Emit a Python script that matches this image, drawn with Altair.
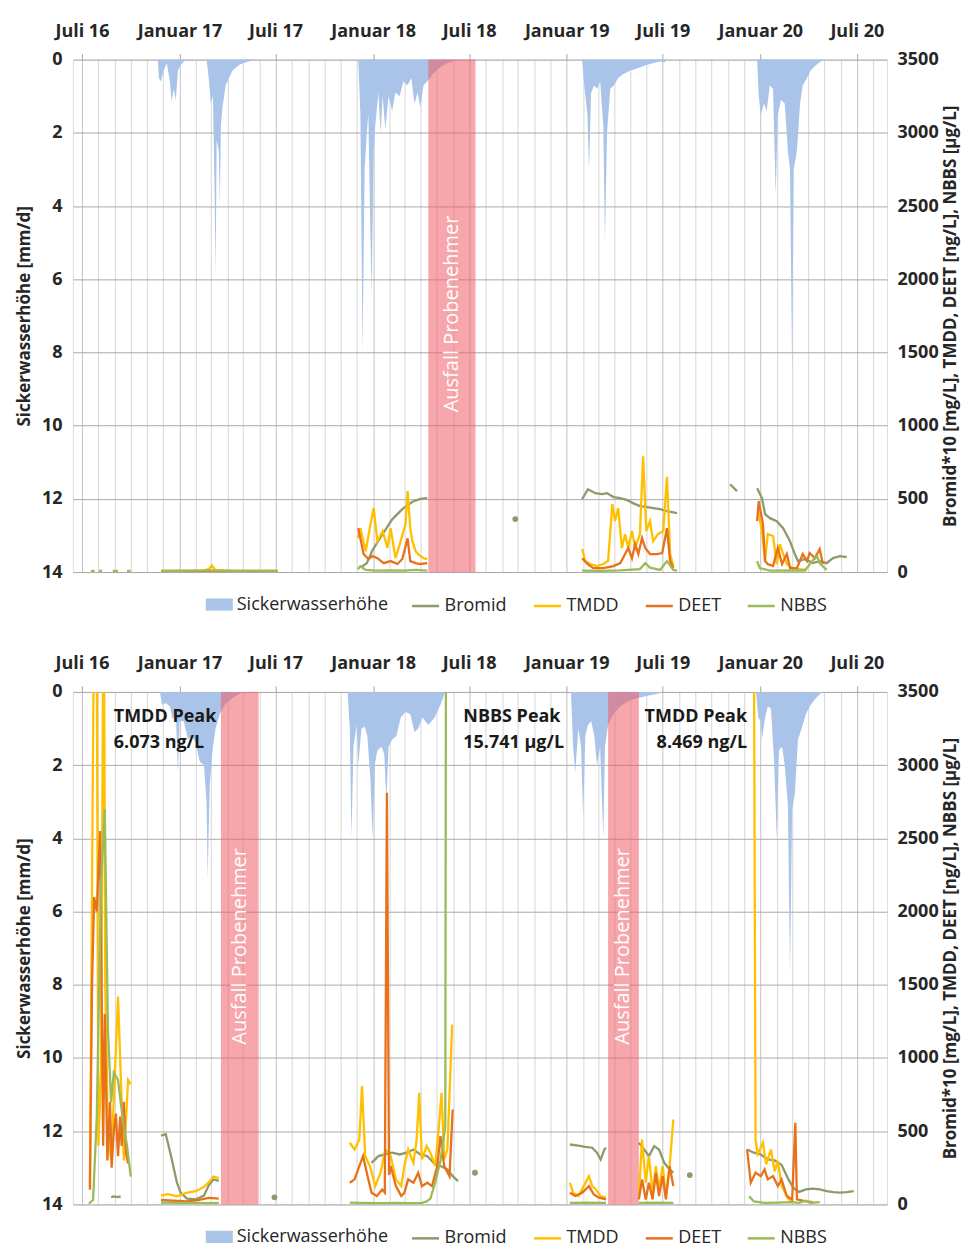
import altair as alt
import pandas as pd

FONT = "Open Sans"
TXT = "#262626"

# ---------------- categories / colours / ticks ----------------
SERIES = ["Sickerwasserhöhe", "Bromid", "TMDD", "DEET", "NBBS"]
COLORS = ["#a9c4e8", "#8d9a6c", "#ffc000", "#e8711c", "#9bbb59"]
BAND_COLOR = "#f15c66"

TICK_DATES = ["2016-07-01", "2017-01-01", "2017-07-01", "2018-01-01", "2018-07-01",
              "2019-01-01", "2019-07-01", "2020-01-01", "2020-07-01"]
TICK_LABELS = ["Juli 16", "Januar 17", "Juli 17", "Januar 18", "Juli 18",
               "Januar 19", "Juli 19", "Januar 20", "Juli 20"]
LEFT_TICKS = [0, 2, 4, 6, 8, 10, 12, 14]
RIGHT_TICKS = [0, 500, 1000, 1500, 2000, 2500, 3000, 3500]
X_DOMAIN = ["2016-06-14", "2020-08-27"]
LEFT_TITLE = "Sickerwasserhöhe [mm/d]"
RIGHT_TITLE = "Bromid*10 [mg/L], TMDD, DEET [ng/L], NBBS [µg/L]"

# ---------------- TOP PANEL ----------------
top_sw_dates = [
    "2016-11-21", "2016-11-23", "2016-11-27", "2016-12-02", "2016-12-08", "2016-12-14", "2016-12-17",
    "2016-12-21", "2016-12-25", "2016-12-29", "2017-01-03", "2017-01-09", "2017-01-13",
    "2017-02-21", "2017-02-25", "2017-03-01", "2017-03-05", "2017-03-08", "2017-03-10", "2017-03-12",
    "2017-03-16", "2017-03-18", "2017-03-20", "2017-03-23", "2017-03-29", "2017-04-04", "2017-04-11",
    "2017-04-23", "2017-05-06", "2017-05-21", "2017-05-26",
    "2017-12-04", "2017-12-08", "2017-12-12", "2017-12-16", "2017-12-20", "2017-12-23", "2017-12-29",
    "2018-01-02", "2018-01-05", "2018-01-11", "2018-01-15", "2018-01-19", "2018-01-24", "2018-01-30",
    "2018-02-06", "2018-02-12", "2018-02-20", "2018-02-27", "2018-03-07", "2018-03-14", "2018-03-20",
    "2018-03-26", "2018-03-31", "2018-04-06", "2018-04-13", "2018-04-23", "2018-05-04", "2018-05-17",
    "2018-05-30", "2018-06-15",
    "2019-01-30", "2019-02-03", "2019-02-09", "2019-02-12", "2019-02-16", "2019-02-22", "2019-02-27",
    "2019-03-05", "2019-03-11", "2019-03-14", "2019-03-18", "2019-03-24", "2019-03-31", "2019-04-08",
    "2019-04-17", "2019-05-01", "2019-05-14", "2019-05-27", "2019-06-07", "2019-06-17", "2019-06-26",
    "2019-07-04", "2019-07-09",
    "2019-12-26", "2019-12-29", "2020-01-02", "2020-01-08", "2020-01-13", "2020-01-19", "2020-01-25",
    "2020-01-30", "2020-02-03", "2020-02-09", "2020-02-16", "2020-02-22", "2020-02-26", "2020-03-01",
    "2020-03-04", "2020-03-10", "2020-03-16", "2020-03-21", "2020-03-29", "2020-04-05", "2020-04-15",
    "2020-04-24", "2020-04-30"]
top_sw_vals = [
    0, 0.5, 0.6, 0.3, 0.1, 0.6, 1.15, 0.8, 1.1, 0.3, 0.15, 0.05, 0,
    0, 0.5, 1.2, 1.0, 3.5, 5.9, 2.2, 2.5, 4.0, 1.8, 1.3, 0.7, 0.5, 0.3, 0.15, 0.07, 0.02, 0,
    0, 1.5, 8.0, 3.0, 2.0, 1.5, 6.5, 2.5, 1.8, 0.9, 2.0, 1.0, 1.9, 1.0, 1.4, 0.9, 1.0, 0.6, 0.7,
    0.5, 1.2, 0.9, 1.3, 0.7, 0.6, 0.4, 0.25, 0.12, 0.05, 0,
    0, 0.7, 1.5, 3.0, 0.9, 0.7, 0.8, 0.6, 1.8, 5.0, 2.0, 0.8, 0.7, 0.5, 0.4, 0.3, 0.24, 0.17, 0.12,
    0.08, 0.05, 0.08, 0,
    0, 1.0, 1.5, 1.2, 1.4, 0.7, 0.8, 3.7, 1.5, 1.1, 1.2, 2.5, 3.0, 8.5, 3.0, 2.5, 1.2, 0.7, 0.5,
    0.3, 0.15, 0.05, 0]

top_bromid_dates = [
    "2016-11-27", "2016-12-15", "2017-01-05", "2017-01-25", "2017-02-15", "2017-03-07", "2017-03-28",
    "2017-04-18", "2017-05-08", "2017-05-29", "2017-06-18", "2017-07-05", None,
    "2017-12-08", "2017-12-20", "2017-12-31", "2018-01-19", "2018-02-06", "2018-02-25", "2018-03-16",
    "2018-03-31", "2018-04-13", None,
    "2018-09-26", None,
    "2019-01-30", "2019-02-10", "2019-02-24", "2019-03-09", "2019-03-18", "2019-03-30", "2019-04-12",
    "2019-04-25", "2019-05-06", "2019-05-19", "2019-06-02", "2019-06-13", "2019-06-26", "2019-07-09",
    "2019-07-28", None,
    "2019-11-05", "2019-11-18", None,
    "2019-12-26", "2020-01-04", "2020-01-10", "2020-01-19", "2020-02-01", "2020-02-13", "2020-02-26",
    "2020-03-06", "2020-03-12", "2020-03-25", "2020-04-09", "2020-04-22", "2020-05-05", "2020-05-17",
    "2020-05-30", "2020-06-12"]
top_bromid_vals = [
    6, 5, 6, 5, 7, 6, 5, 6, 5, 6, 5, 5, None,
    30, 60, 150, 260, 360, 430, 480, 500, 505, None,
    362, None,
    498, 566, 539, 532, 539, 512, 505, 491, 471, 450, 443, 437, 430, 416, 403, None,
    600, 553, None,
    573, 505, 396, 368, 348, 300, 211, 123, 75, 89, 61, 75, 61, 95, 109, 102]

top_tmdd_dates = [
    "2016-11-27", "2017-01-05", "2017-02-15", "2017-02-25", "2017-03-03", "2017-03-09", "2017-04-10",
    "2017-05-20", "2017-07-05", None,
    "2017-12-03", "2017-12-08", "2017-12-18", "2017-12-27", "2018-01-02", "2018-01-09", "2018-01-19",
    "2018-01-28", "2018-02-03", "2018-02-12", "2018-02-22", "2018-03-03", "2018-03-07", "2018-03-12",
    "2018-03-16", "2018-03-22", "2018-03-27", "2018-04-06", "2018-04-13", None,
    "2019-01-30", "2019-02-05", "2019-02-14", "2019-02-27", "2019-03-11", "2019-03-20", "2019-03-28",
    "2019-04-02", "2019-04-08", "2019-04-15", "2019-04-21", "2019-04-27", "2019-05-04", "2019-05-10",
    "2019-05-19", "2019-05-25", "2019-05-31", "2019-06-07", "2019-06-13", "2019-06-22", "2019-07-02",
    "2019-07-09", "2019-07-15", "2019-07-21", None,
    "2019-12-28", "2020-01-04", "2020-01-10", "2020-01-15", "2020-01-25", "2020-02-01", "2020-02-07",
    "2020-02-13", "2020-02-20", "2020-03-02", "2020-03-16", "2020-03-29"]
top_tmdd_vals = [
    5, 8, 10, 20, 45, 15, 8, 5, 5, None,
    232, 300, 143, 327, 437, 211, 280, 164, 300, 95, 211, 327, 553, 300, 211, 143, 123, 95, 89, None,
    157, 75, 55, 41, 55, 75, 464, 348, 437, 164, 259, 164, 280, 164, 259, 790, 280, 348, 211, 259,
    280, 650, 123, 41, None,
    416, 280, 75, 259, 246, 55, 191, 123, 55, 27, 20, 15]

top_deet_dates = [
    "2016-11-27", "2017-02-01", "2017-04-01", "2017-07-05", None,
    "2017-12-04", "2017-12-14", "2017-12-23", "2017-12-31", "2018-01-09", "2018-01-21", "2018-02-03",
    "2018-02-16", "2018-02-25", "2018-03-07", "2018-03-12", "2018-03-22", "2018-03-31", "2018-04-13", None,
    "2019-01-30", "2019-02-09", "2019-02-20", "2019-03-11", "2019-03-30", "2019-04-12", "2019-04-21",
    "2019-04-27", "2019-05-04", "2019-05-10", "2019-05-16", "2019-05-23", "2019-05-29", "2019-06-07",
    "2019-06-20", "2019-06-30", "2019-07-09", "2019-07-15", "2019-07-21", None,
    "2019-12-26", "2019-12-29", "2020-01-06", "2020-01-10", "2020-01-15", "2020-01-25", "2020-02-03",
    "2020-02-11", "2020-02-20", "2020-02-26", "2020-03-10", "2020-03-21", "2020-03-29", "2020-04-03",
    "2020-04-13", "2020-04-22", "2020-04-28"]
top_deet_vals = [
    4, 6, 5, 4, None,
    300, 123, 89, 109, 95, 61, 75, 55, 89, 230, 75, 61, 55, 61, None,
    95, 55, 27, 27, 41, 61, 123, 164, 95, 191, 123, 232, 164, 123, 123, 130, 300, 75, 27, None,
    348, 484, 327, 75, 55, 41, 164, 55, 123, 27, 27, 123, 75, 130, 95, 157, 55]

top_nbbs_dates = [
    "2016-07-18", "2016-07-25", None, "2016-08-02", "2016-08-08", None, "2016-08-28", "2016-09-07", None,
    "2016-09-24", "2016-10-01", None,
    "2016-11-27", "2016-12-20", "2017-01-20", "2017-02-20", "2017-03-20", "2017-04-20", "2017-05-20",
    "2017-06-20", "2017-07-05", None,
    "2017-12-03", "2017-12-08", "2017-12-18", "2018-01-05", "2018-02-03", "2018-03-03", "2018-03-22",
    "2018-04-13", None,
    "2019-01-30", "2019-03-05", "2019-04-12", "2019-05-19", "2019-05-29", "2019-06-07", "2019-06-26",
    "2019-07-09", "2019-07-21", "2019-07-28", None,
    "2019-12-26", "2019-12-31", "2020-01-19", "2020-02-26", "2020-03-25", "2020-04-09", "2020-04-17",
    "2020-04-22", "2020-05-05"]
top_nbbs_vals = [
    8, 8, None, 8, 8, None, 8, 8, None, 8, 8, None,
    10, 9, 10, 11, 10, 9, 10, 9, 10, None,
    20, 40, 15, 10, 12, 10, 15, 10, None,
    10, 8, 12, 20, 61, 30, 15, 75, 15, 10, None,
    75, 27, 10, 12, 10, 80, 109, 60, 15]

top_band_start = ["2018-04-15"]
top_band_end = ["2018-07-13"]

# ---------------- BOTTOM PANEL ----------------
bot_sw_dates = [
    "2016-11-25", "2016-11-29", "2016-12-06", "2016-12-14", "2016-12-19", "2016-12-25", "2016-12-29",
    "2017-01-01", "2017-01-09", "2017-01-17", "2017-01-24", "2017-02-01", "2017-02-08", "2017-02-16",
    "2017-02-21", "2017-02-23", "2017-02-27", "2017-03-05", "2017-03-10", "2017-03-18", "2017-03-27",
    "2017-04-08", "2017-04-21", "2017-05-02",
    "2017-11-14", "2017-11-18", "2017-11-21", "2017-11-25", "2017-12-01", "2017-12-04", "2017-12-10",
    "2017-12-16", "2017-12-21", "2017-12-27", "2017-12-31", "2018-01-04", "2018-01-09", "2018-01-17",
    "2018-01-22", "2018-01-26", "2018-01-30", "2018-02-06", "2018-02-14", "2018-02-22", "2018-03-03",
    "2018-03-12", "2018-03-20", "2018-03-27", "2018-04-04", "2018-04-15", "2018-04-27", "2018-05-08",
    "2018-05-17",
    "2019-01-09", "2019-01-13", "2019-01-17", "2019-01-23", "2019-01-28", "2019-02-01", "2019-02-05",
    "2019-02-10", "2019-02-16", "2019-02-22", "2019-02-27", "2019-03-05", "2019-03-11", "2019-03-14",
    "2019-03-20", "2019-03-30", "2019-04-12", "2019-04-27", "2019-05-12", "2019-05-29", "2019-06-11",
    "2019-06-22", "2019-06-30",
    "2019-12-24", "2019-12-28", "2020-01-02", "2020-01-04", "2020-01-10", "2020-01-15", "2020-01-21",
    "2020-01-27", "2020-02-01", "2020-02-05", "2020-02-11", "2020-02-16", "2020-02-22", "2020-02-26",
    "2020-03-01", "2020-03-06", "2020-03-12", "2020-03-19", "2020-03-27", "2020-04-03", "2020-04-13",
    "2020-04-22", "2020-04-28"]
bot_sw_vals = [
    0, 0.35, 0.3, 0.4, 0.75, 0.6, 2.2, 0.8, 0.8, 1.3, 1.2, 1.4, 1.9, 2.0, 3.0, 5.1, 2.5, 1.5, 1.0,
    0.6, 0.35, 0.2, 0.08, 0,
    0, 1.0, 4.0, 1.5, 0.9, 2.0, 1.0, 0.95, 1.2, 2.4, 4.0, 2.0, 1.6, 1.5, 1.7, 3.0, 1.5, 1.3, 1.2,
    0.7, 0.55, 0.6, 1.1, 1.0, 0.7, 0.9, 0.7, 0.35, 0,
    0, 1.5, 2.2, 1.0, 1.5, 3.4, 1.2, 0.9, 0.8, 1.2, 2.0, 1.5, 4.0, 1.5, 0.9, 0.6, 0.4, 0.25, 0.18,
    0.12, 0.08, 0.05, 0,
    0, 0.7, 0.8, 1.3, 0.7, 0.4, 0.45, 1.9, 4.0, 1.6, 1.5, 2.0, 3.1, 7.7, 3.2, 2.8, 1.3, 1.0, 0.6,
    0.4, 0.2, 0.06, 0]

bot_bromid_dates = [
    "2016-08-25", "2016-08-30", "2016-09-07", "2016-09-12", None,
    "2016-11-27", "2016-12-06", "2016-12-16", "2016-12-27", "2017-01-03", "2017-01-15", "2017-02-01",
    "2017-02-16", "2017-02-25", "2017-03-06", "2017-03-16", None,
    "2017-06-29", None,
    "2017-12-29", "2018-01-11", "2018-01-24", "2018-02-06", "2018-02-20", "2018-03-05", "2018-03-18",
    "2018-03-31", "2018-04-13", "2018-04-25", "2018-05-08", "2018-05-21", "2018-05-31", "2018-06-10", None,
    "2018-07-12", None,
    "2019-01-07", "2019-01-23", "2019-02-05", "2019-02-18", "2019-02-27", "2019-03-06", "2019-03-13",
    "2019-03-16", None,
    "2019-05-17", "2019-05-27", "2019-06-05", "2019-06-15", "2019-06-24", "2019-07-04", "2019-07-14",
    "2019-07-21", None,
    "2019-08-21", None,
    "2019-12-07", "2019-12-20", "2020-01-02", "2020-01-15", "2020-01-28", "2020-02-10", "2020-02-23",
    "2020-03-04", "2020-03-14", "2020-03-27", "2020-04-09", "2020-04-22", "2020-05-05", "2020-05-18",
    "2020-05-30", "2020-06-12", "2020-06-25"]
bot_bromid_vals = [
    50, 55, 50, 55, None,
    470, 480, 330, 150, 80, 40, 35, 60, 130, 170, 160, None,
    48, None,
    284, 330, 341, 353, 341, 353, 375, 341, 330, 284, 262, 239, 193, 159, None,
    216, None,
    409, 402, 393, 387, 353, 307, 375, 387, None,
    421, 375, 330, 398, 375, 284, 239, 216, None,
    200, None,
    375, 353, 341, 307, 300, 270, 171, 110, 85, 102, 107, 102, 91, 84, 80, 84, 91]

bot_tmdd_dates = [
    "2016-07-16", "2016-07-24", "2016-07-27", "2016-08-01", "2016-08-06", "2016-08-11", "2016-08-14",
    "2016-08-19", "2016-08-25", "2016-08-30", "2016-09-07", "2016-09-12", "2016-09-18", "2016-09-26",
    "2016-10-01", None,
    "2016-11-27", "2016-12-10", "2016-12-27", "2017-01-15", "2017-02-01", "2017-02-16", "2017-02-25",
    "2017-03-06", "2017-03-16", None,
    "2017-11-18", "2017-11-27", "2017-12-06", "2017-12-11", "2017-12-17", "2017-12-26", "2018-01-05",
    "2018-01-15", "2018-01-24", "2018-02-03", "2018-02-13", "2018-02-23", "2018-03-01", "2018-03-08",
    "2018-03-18", "2018-03-24", "2018-03-29", "2018-04-03", "2018-04-12", "2018-04-19", "2018-04-28",
    "2018-05-05", "2018-05-10", "2018-05-15", "2018-05-21", "2018-05-30", None,
    "2019-01-07", "2019-01-13", "2019-01-23", "2019-02-02", "2019-02-12", "2019-02-18", "2019-02-25",
    "2019-03-06", "2019-03-16", None,
    "2019-05-17", "2019-05-23", "2019-05-30", "2019-06-05", "2019-06-12", "2019-06-18", "2019-06-24",
    "2019-07-01", "2019-07-07", "2019-07-14", "2019-07-21", None,
    "2019-12-16", "2019-12-23", "2019-12-27", "2020-01-06", "2020-01-12", "2020-01-21", "2020-01-28",
    "2020-02-03", "2020-02-10", "2020-02-16", "2020-02-23", "2020-03-04"]
bot_tmdd_vals = [
    120, 4200, 6073, 400, 900, 4500, 1500, 500, 300, 700, 1420, 900, 300, 850, 820, None,
    60, 70, 55, 80, 90, 120, 150, 190, 180, None,
    421, 375, 443, 808, 330, 262, 125, 216, 375, 330, 171, 125, 262, 375, 284, 443, 762, 307, 398,
    353, 262, 535, 762, 307, 375, 1228, None,
    148, 80, 57, 125, 193, 125, 102, 57, 46, None,
    57, 443, 148, 330, 80, 262, 102, 262, 57, 262, 580, None,
    8469, 440, 344, 421, 273, 375, 226, 297, 131, 83, 36, 12]

bot_deet_dates = [
    "2016-07-16", "2016-07-20", "2016-07-24", "2016-07-29", "2016-08-04", "2016-08-10", "2016-08-13",
    "2016-08-18", "2016-08-23", "2016-08-26", "2016-08-30", "2016-09-03", "2016-09-07", "2016-09-11",
    "2016-09-14", "2016-09-18", "2016-09-22", "2016-09-26", None,
    "2016-11-27", "2016-12-20", "2017-01-15", "2017-02-05", "2017-02-25", "2017-03-16", None,
    "2017-11-18", "2017-11-27", "2017-12-06", "2017-12-13", "2017-12-20", "2017-12-29", "2018-01-08",
    "2018-01-18", "2018-01-23", "2018-01-27", "2018-01-31", "2018-02-03", "2018-02-13", "2018-02-23",
    "2018-03-01", "2018-03-08", "2018-03-18", "2018-03-27", "2018-04-03", "2018-04-13", "2018-04-22",
    "2018-05-02", "2018-05-08", "2018-05-15", "2018-05-25", "2018-05-31", None,
    "2019-01-07", "2019-01-17", "2019-01-30", "2019-02-12", "2019-02-21", "2019-03-03", "2019-03-16", None,
    "2019-05-17", "2019-05-23", "2019-05-30", "2019-06-05", "2019-06-12", "2019-06-18", "2019-06-24",
    "2019-07-01", "2019-07-07", "2019-07-14", "2019-07-21", None,
    "2019-12-07", "2019-12-14", "2019-12-23", "2020-01-02", "2020-01-09", "2020-01-15", "2020-01-25",
    "2020-02-03", "2020-02-10", "2020-02-20", "2020-03-01", "2020-03-07", "2020-03-10", "2020-03-27",
    "2020-04-09"]
bot_deet_vals = [
    100, 1500, 2100, 2000, 2550, 400, 1300, 300, 700, 250, 500, 620, 330, 600, 400, 700, 350, 280, None,
    30, 25, 20, 30, 45, 40, None,
    148, 171, 262, 330, 216, 80, 57, 102, 80, 2811, 200, 262, 125, 57, 80, 171, 148, 216, 125, 148,
    125, 262, 466, 262, 193, 648, None,
    80, 57, 80, 125, 68, 46, 34, None,
    34, 171, 34, 148, 34, 216, 57, 193, 34, 262, 125, None,
    375, 148, 216, 193, 239, 171, 193, 125, 171, 57, 34, 557, 34, 20, 15]

bot_nbbs_dates = [
    "2016-07-14", "2016-07-22", "2016-07-29", "2016-08-06", "2016-08-13", "2016-08-19", "2016-08-25",
    "2016-08-30", "2016-09-07", "2016-09-12", "2016-09-18", "2016-09-24", "2016-10-01", None,
    "2016-11-27", "2017-01-01", "2017-02-01", "2017-03-01", "2017-03-16", None,
    "2017-11-18", "2017-12-10", "2018-01-10", "2018-02-10", "2018-03-10", "2018-04-03", "2018-04-12",
    "2018-04-19", "2018-04-28", "2018-05-08", "2018-05-17", "2018-05-23", None,
    "2019-01-07", "2019-02-05", "2019-03-16", None,
    "2019-05-17", "2019-06-15", "2019-07-21", None,
    "2019-12-11", "2019-12-20", "2020-01-09", "2020-02-03", "2020-03-01", "2020-03-14", "2020-03-27",
    "2020-04-05", "2020-04-22"]
bot_nbbs_vals = [
    5, 30, 600, 2200, 2700, 1200, 700, 900, 850, 700, 530, 400, 190, None,
    12, 10, 10, 8, 10, None,
    12, 10, 8, 10, 8, 10, 20, 40, 150, 300, 532, 15741, None,
    10, 12, 10, None,
    10, 12, 10, None,
    55, 20, 10, 12, 15, 10, 25, 10, 15]

bot_band_start = ["2017-03-20", "2019-03-20"]
bot_band_end = ["2017-05-30", "2019-05-17"]

BAND_LABEL = "Ausfall Probenehmer"
BAND_LABEL_LEVEL = 6.95

ann_texts = ["TMDD Peak\n6.073 ng/L", "NBBS Peak\n15.741 µg/L", "TMDD Peak\n8.469 ng/L"]
ann_dates = ["2016-08-30", "2018-06-20", "2019-12-07"]
ann_align = ["left", "left", "right"]
ANN_LEVEL = 0.45

# ---------------- helpers ----------------
def dt(s):
    y, m, d = (int(p) for p in s.split("-"))
    return alt.DateTime(year=y, month=m, date=d)


MAJOR_TEST = "month(datum.value) == 0 || month(datum.value) == 6"
LABEL_EXPR = " : ".join(
    f"timeFormat(datum.value, '%Y-%m') == '{d[:7]}' ? '{lab}'" for d, lab in zip(TICK_DATES, TICK_LABELS)
) + " : ''"
GRID_VALUES = [alt.DateTime(year=t.year, month=t.month, date=1)
               for t in pd.date_range("2016-07-01", "2020-08-01", freq="MS")]

x_axis = alt.Axis(
    orient="top", values=GRID_VALUES, labelExpr=LABEL_EXPR, labelOverlap=False, labelFlush=False,
    labelAngle=0, grid=True,
    gridColor={"condition": {"test": MAJOR_TEST, "value": "#c2c2c2"}, "value": "#d6d6d6"},
    gridWidth=1, domain=False, ticks=True, tickSize=6, tickColor="#a6a6a6",
    tickOpacity={"condition": {"test": MAJOR_TEST, "value": 1}, "value": 0},
    labelFont=FONT, labelFontSize=18, labelFontWeight="bold", labelColor=TXT, labelPadding=13,
)
x_scale = alt.Scale(domain=[dt(X_DOMAIN[0]), dt(X_DOMAIN[1])])


def X(field):
    return alt.X(f"{field}:T", scale=x_scale, axis=x_axis, title=None)


left_scale = alt.Scale(domain=[0, 14], reverse=True, nice=False)
right_scale = alt.Scale(domain=[0, 3500], nice=False)
left_axis = alt.Axis(
    orient="left", values=LEFT_TICKS, title=LEFT_TITLE, grid=True, gridColor="#a9a9a9", gridWidth=1,
    ticks=False, domain=False, labelFont=FONT, labelFontSize=18, labelFontWeight="bold", labelColor=TXT,
    labelPadding=11, titleFont=FONT, titleFontSize=17, titleFontWeight="bold", titleColor=TXT,
    titlePadding=8,
)
right_axis = alt.Axis(
    orient="right", values=RIGHT_TICKS, format="d", title=RIGHT_TITLE, grid=False, ticks=False,
    domain=False, labelFont=FONT, labelFontSize=18, labelFontWeight="bold", labelColor=TXT,
    labelPadding=10, titleFont=FONT, titleFontSize=17, titleFontWeight="bold", titleColor=TXT,
    titleAngle=270, titleBaseline="top", titlePadding=4,
)

LEG_Y = 532
fill_enc = alt.Fill(
    "series:N", scale=alt.Scale(domain=SERIES[:1], range=COLORS[:1]),
    legend=alt.Legend(orient="none", legendX=133, legendY=LEG_Y, direction="horizontal", title=None,
                      symbolType="M-1,-0.45H1V0.45H-1Z", symbolSize=729, symbolStrokeWidth=0,
                      labelFont=FONT, labelFontSize=18, labelColor=TXT, labelOffset=4,
                      labelLimit=400, padding=0))
stroke_enc = alt.Stroke(
    "series:N", scale=alt.Scale(domain=SERIES[1:], range=COLORS[1:]),
    legend=alt.Legend(orient="none", legendX=338, legendY=LEG_Y, direction="horizontal", title=None,
                      symbolType="stroke", symbolSize=729, symbolStrokeWidth=2.5,
                      labelFont=FONT, labelFontSize=18, labelColor=TXT, labelOffset=4,
                      columnPadding=21, labelLimit=400, padding=0))


def build_lines(spec):
    rows = []
    for s in SERIES[1:]:
        dates, vals = spec[s]
        seg = 0
        for d, v in zip(dates, vals):
            if d is None:
                seg += 1
                continue
            rows.append({"date": d, "value": v, "series": s, "seg": f"{s}-{seg}"})
    df = pd.DataFrame(rows)
    df["date"] = pd.to_datetime(df["date"])
    df["n"] = df.groupby("seg")["seg"].transform("size")
    return df


def panel(sw_dates, sw_vals, spec, band_start, band_end, with_ann):
    df_sw = pd.DataFrame({"date": pd.to_datetime(sw_dates), "value": sw_vals, "series": SERIES[0]})
    df_lines = build_lines(spec)
    s = pd.to_datetime(band_start)
    e = pd.to_datetime(band_end)
    df_band = pd.DataFrame({"start": s, "end": e, "mid": s + (e - s) / 2,
                            "label": BAND_LABEL, "level": BAND_LABEL_LEVEL})

    area = alt.Chart(df_sw).mark_area(opacity=1, interpolate="linear").encode(
        x=X("date"), y=alt.Y("value:Q", scale=left_scale, axis=left_axis, stack=False), fill=fill_enc)
    band = alt.Chart(df_band).mark_rect(color=BAND_COLOR, opacity=0.55).encode(
        x=X("start"), x2="end:T")
    band_txt = alt.Chart(df_band).mark_text(
        angle=270, color="white", font=FONT, fontSize=20, align="center", baseline="middle").encode(
        x=X("mid"), y=alt.Y("level:Q", scale=left_scale, axis=left_axis), text="label:N")
    left_layers = [area, band, band_txt]
    if with_ann:
        df_ann = pd.DataFrame({"date": pd.to_datetime(ann_dates), "text": ann_texts,
                               "align": ann_align, "level": ANN_LEVEL})
        for al in ["left", "right"]:
            sub = df_ann[df_ann["align"] == al]
            left_layers.append(
                alt.Chart(sub).mark_text(
                    align=al, baseline="top", lineBreak="\n", lineHeight=26, font=FONT, fontSize=18,
                    fontWeight="bold", color="#1a1a1a").encode(
                    x=X("date"), y=alt.Y("level:Q", scale=left_scale, axis=left_axis), text="text:N"))
    left_group = alt.layer(*left_layers)

    lines = alt.Chart(df_lines[df_lines["n"] > 1]).mark_line(strokeWidth=2.3, clip=True).encode(
        x=X("date"), y=alt.Y("value:Q", scale=right_scale, axis=right_axis), stroke=stroke_enc,
        detail="seg:N")
    pts = alt.Chart(df_lines[df_lines["n"] == 1]).mark_point(
        shape="circle", filled=False, size=8, strokeWidth=3, opacity=1, clip=True).encode(
        x=X("date"), y=alt.Y("value:Q", scale=right_scale, axis=right_axis), stroke=stroke_enc)
    right_group = alt.layer(lines, pts)

    return alt.layer(left_group, right_group).resolve_scale(y="independent").properties(
        width=815, height=513)


top = panel(top_sw_dates, top_sw_vals,
            {"Bromid": (top_bromid_dates, top_bromid_vals), "TMDD": (top_tmdd_dates, top_tmdd_vals),
             "DEET": (top_deet_dates, top_deet_vals), "NBBS": (top_nbbs_dates, top_nbbs_vals)},
            top_band_start, top_band_end, False)
bottom = panel(bot_sw_dates, bot_sw_vals,
               {"Bromid": (bot_bromid_dates, bot_bromid_vals), "TMDD": (bot_tmdd_dates, bot_tmdd_vals),
                "DEET": (bot_deet_dates, bot_deet_vals), "NBBS": (bot_nbbs_dates, bot_nbbs_vals)},
               bot_band_start, bot_band_end, True)

chart = alt.vconcat(top, bottom, spacing=38).resolve_scale(
    fill="independent", stroke="independent"
).properties(
    padding={"left": 6, "top": 13, "right": 6, "bottom": 0}
).configure_view(strokeWidth=0).configure(background="white")

chart.save("out.html", embed_options={"renderer": "svg", "actions": False})
